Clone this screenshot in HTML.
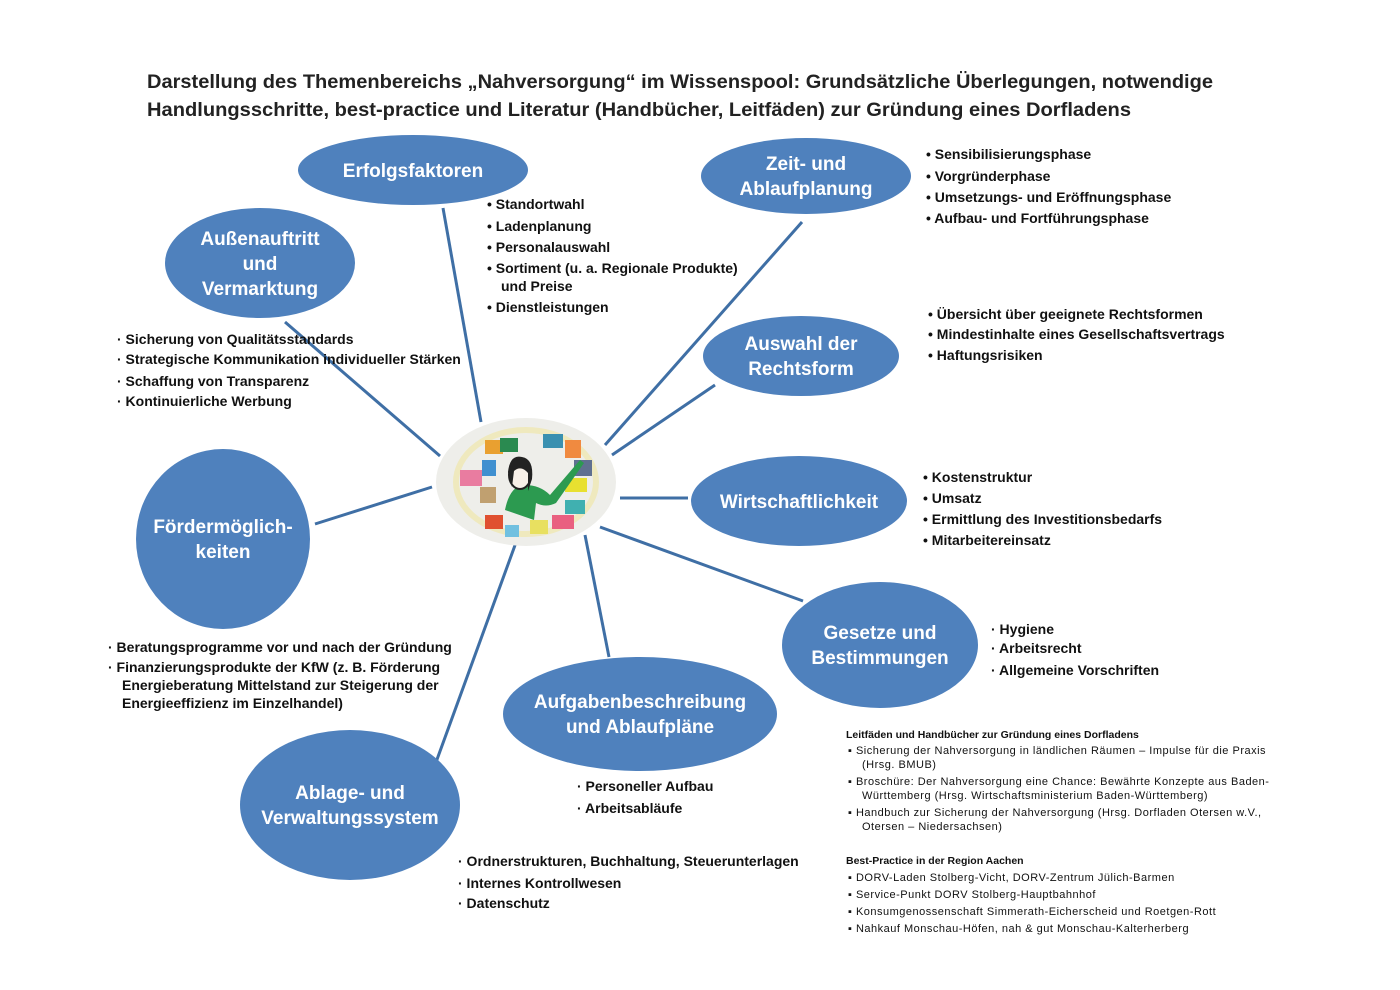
<!DOCTYPE html>
<html><head><meta charset="utf-8"><style>
html,body{margin:0;padding:0;background:#fff}
svg{display:block}
text{font-family:"Liberation Sans",sans-serif}
.t{font-size:19.5px;font-weight:bold;fill:#222}
.n{font-size:19px;font-weight:bold;fill:#fff;text-anchor:middle}
.l{font-size:14px;font-weight:bold;fill:#111}
.s{font-size:11px;fill:#111;letter-spacing:0.5px}
.sb{font-size:10.5px;font-weight:bold;fill:#111}
</style></head><body>
<svg width="1400" height="990" viewBox="0 0 1400 990" xmlns="http://www.w3.org/2000/svg">
<text class="t" x="147" y="88" textLength="1066" lengthAdjust="spacingAndGlyphs">Darstellung des Themenbereichs „Nahversorgung“ im Wissenspool: Grundsätzliche Überlegungen, notwendige</text>
<text class="t" x="147" y="116" textLength="984" lengthAdjust="spacingAndGlyphs">Handlungsschritte, best-practice und Literatur (Handbücher, Leitfäden) zur Gründung eines Dorfladens</text>

<g stroke="#3f6fa5" stroke-width="3" fill="none">
<line x1="443" y1="208" x2="481" y2="422"/>
<line x1="285" y1="322" x2="440" y2="456"/>
<line x1="802" y1="222" x2="605" y2="445"/>
<line x1="715" y1="385" x2="612" y2="455"/>
<line x1="620" y1="498" x2="688" y2="498"/>
<line x1="600" y1="527" x2="803" y2="601"/>
<line x1="585" y1="535" x2="609" y2="657"/>
<line x1="518" y1="537" x2="435" y2="765"/>
<line x1="315" y1="524" x2="432" y2="487"/>
</g>

<g fill="#4f81bd">
<ellipse cx="413" cy="170" rx="115" ry="35"/>
<ellipse cx="260" cy="263" rx="95" ry="55"/>
<ellipse cx="806" cy="176" rx="105" ry="38"/>
<ellipse cx="801" cy="356" rx="98" ry="40"/>
<ellipse cx="799" cy="501" rx="108" ry="45"/>
<ellipse cx="880" cy="645" rx="98" ry="63"/>
<ellipse cx="640" cy="714" rx="137" ry="57"/>
<ellipse cx="350" cy="805" rx="110" ry="75"/>
<ellipse cx="223" cy="539" rx="87" ry="90"/>
</g>

<ellipse cx="526" cy="482" rx="90" ry="64" fill="#eeeeea"/>
<ellipse cx="526" cy="482" rx="70" ry="52" fill="none" stroke="#f0e6a0" stroke-width="6" opacity="0.6"/>
<g>
<rect x="460" y="470" width="22" height="16" fill="#e97ca0"/>
<rect x="485" y="440" width="18" height="14" fill="#e9a030"/>
<rect x="500" y="438" width="18" height="14" fill="#2a8a50"/>
<rect x="543" y="434" width="20" height="14" fill="#3a90b0"/>
<rect x="565" y="440" width="16" height="18" fill="#f08a40"/>
<rect x="574" y="460" width="18" height="16" fill="#607090"/>
<rect x="565" y="478" width="22" height="14" fill="#e8e030"/>
<rect x="565" y="500" width="20" height="14" fill="#40b0b0"/>
<rect x="552" y="515" width="22" height="14" fill="#e96080"/>
<rect x="530" y="520" width="18" height="14" fill="#e8e060"/>
<rect x="485" y="515" width="18" height="14" fill="#e05030"/>
<rect x="505" y="525" width="14" height="12" fill="#70c0e0"/>
<rect x="480" y="487" width="16" height="16" fill="#c0a070"/>
<rect x="482" y="460" width="14" height="16" fill="#4090d0"/>
</g>
<path d="M505 510 q5 -25 20 -25 q15 0 25 10 l30 -35 l4 3 l-28 40 q-10 5 -20 0 l-2 17 z" fill="#2c9a50"/>
<ellipse cx="520" cy="475" rx="11" ry="14" fill="#f8f0e8" stroke="#222" stroke-width="2"/>
<path d="M508 472 q2 -18 14 -15 q12 2 10 22 l-4 12 l0 -18 q-7 -8 -14 -2 l-2 16 z" fill="#222"/>

<g class="n">
<text x="413" y="177">Erfolgsfaktoren</text>
<text x="260" y="245">Außenauftritt</text>
<text x="260" y="270">und</text>
<text x="260" y="295">Vermarktung</text>
<text x="806" y="170">Zeit- und</text>
<text x="806" y="195">Ablaufplanung</text>
<text x="801" y="350">Auswahl der</text>
<text x="801" y="375">Rechtsform</text>
<text x="799" y="508">Wirtschaftlichkeit</text>
<text x="880" y="639">Gesetze und</text>
<text x="880" y="664">Bestimmungen</text>
<text x="640" y="708">Aufgabenbeschreibung</text>
<text x="640" y="733">und Ablaufpläne</text>
<text x="350" y="799">Ablage- und</text>
<text x="350" y="824">Verwaltungssystem</text>
<text x="223" y="533">Fördermöglich-</text>
<text x="223" y="558">keiten</text>
</g>

<g class="l">
<text x="487" y="209">•  Standortwahl</text>
<text x="487" y="231">•  Ladenplanung</text>
<text x="487" y="252">•  Personalauswahl</text>
<text x="487" y="273">•  Sortiment (u. a. Regionale Produkte)</text>
<text x="501" y="291">und Preise</text>
<text x="487" y="312">•  Dienstleistungen</text>

<text x="117" y="344">·  Sicherung von Qualitätsstandards</text>
<text x="117" y="364">·  Strategische Kommunikation individueller Stärken</text>
<text x="117" y="386">·  Schaffung von Transparenz</text>
<text x="117" y="406">·  Kontinuierliche Werbung</text>

<text x="926" y="159">•  Sensibilisierungsphase</text>
<text x="926" y="181">•  Vorgründerphase</text>
<text x="926" y="202">•  Umsetzungs- und Eröffnungsphase</text>
<text x="926" y="223">•  Aufbau- und Fortführungsphase</text>

<text x="928" y="319">•  Übersicht über geeignete Rechtsformen</text>
<text x="928" y="339">•  Mindestinhalte eines Gesellschaftsvertrags</text>
<text x="928" y="360">•  Haftungsrisiken</text>

<text x="923" y="482">•  Kostenstruktur</text>
<text x="923" y="503">•  Umsatz</text>
<text x="923" y="524">•  Ermittlung des Investitionsbedarfs</text>
<text x="923" y="545">•  Mitarbeitereinsatz</text>

<text x="991" y="634">·  Hygiene</text>
<text x="991" y="653">·  Arbeitsrecht</text>
<text x="991" y="675">·  Allgemeine Vorschriften</text>

<text x="108" y="652">·  Beratungsprogramme vor und nach der Gründung</text>
<text x="108" y="672">·  Finanzierungsprodukte der KfW (z. B. Förderung</text>
<text x="122" y="690">Energieberatung Mittelstand zur Steigerung der</text>
<text x="122" y="708">Energieeffizienz im Einzelhandel)</text>

<text x="577" y="791">·  Personeller Aufbau</text>
<text x="577" y="813">·  Arbeitsabläufe</text>

<text x="458" y="866">·  Ordnerstrukturen, Buchhaltung, Steuerunterlagen</text>
<text x="458" y="888">·  Internes Kontrollwesen</text>
<text x="458" y="908">·  Datenschutz</text>
</g>

<text class="sb" x="846" y="738">Leitfäden und Handbücher zur Gründung eines Dorfladens</text>
<g class="s">
<text x="848" y="754">▪  Sicherung der Nahversorgung in ländlichen Räumen – Impulse für die Praxis</text>
<text x="862" y="768">(Hrsg. BMUB)</text>
<text x="848" y="785">▪  Broschüre: Der Nahversorgung eine Chance: Bewährte Konzepte aus Baden-</text>
<text x="862" y="799">Württemberg (Hrsg. Wirtschaftsministerium Baden-Württemberg)</text>
<text x="848" y="816">▪  Handbuch zur Sicherung der Nahversorgung (Hrsg. Dorfladen Otersen w.V.,</text>
<text x="862" y="830">Otersen – Niedersachsen)</text>
</g>
<text class="sb" x="846" y="864">Best-Practice in der Region Aachen</text>
<g class="s">
<text x="848" y="881">▪  DORV-Laden Stolberg-Vicht, DORV-Zentrum Jülich-Barmen</text>
<text x="848" y="898">▪  Service-Punkt DORV Stolberg-Hauptbahnhof</text>
<text x="848" y="915">▪  Konsumgenossenschaft Simmerath-Eicherscheid und Roetgen-Rott</text>
<text x="848" y="932">▪  Nahkauf Monschau-Höfen, nah &amp; gut Monschau-Kalterherberg</text>
</g>
</svg>
</body></html>
